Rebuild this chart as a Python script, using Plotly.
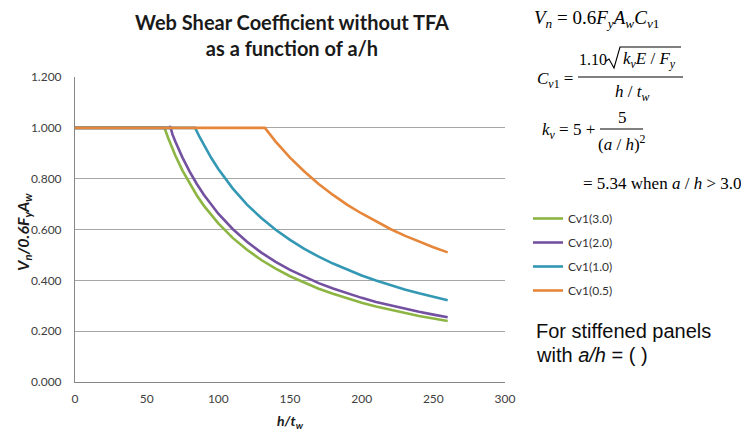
import plotly.graph_objects as go

# ---- data ----
series_names = ["Cv1(3.0)", "Cv1(2.0)", "Cv1(1.0)", "Cv1(0.5)"]
series_colors = ["#8DB543", "#7450A0", "#3398B4", "#E6863A"]

x_30 = [0, 62.4, 65, 67.5, 70, 75, 80, 85, 90, 100, 110, 120, 130, 140, 150, 160, 170, 180, 190, 200, 210, 220, 230, 240, 250, 260]
y_30 = [1.0, 1.0, 0.960, 0.924, 0.891, 0.832, 0.780, 0.734, 0.693, 0.624, 0.567, 0.520, 0.480, 0.446, 0.416, 0.390, 0.367, 0.347, 0.328, 0.312, 0.297, 0.284, 0.271, 0.260, 0.250, 0.240]

x_20 = [0, 65.5, 66.5, 68, 70, 75, 80, 85, 90, 100, 110, 120, 130, 140, 150, 160, 170, 180, 190, 200, 210, 220, 230, 240, 250, 260]
y_20 = [1.0, 1.0, 1.006, 0.974, 0.946, 0.883, 0.828, 0.779, 0.736, 0.662, 0.602, 0.552, 0.509, 0.473, 0.441, 0.414, 0.389, 0.368, 0.348, 0.331, 0.315, 0.301, 0.288, 0.276, 0.265, 0.255]

x_10 = [0, 83.8, 87, 90, 95, 100, 105, 110, 120, 130, 140, 150, 160, 170, 180, 190, 200, 210, 220, 230, 240, 250, 260]
y_10 = [1.0, 1.0, 0.963, 0.931, 0.882, 0.838, 0.798, 0.762, 0.698, 0.645, 0.599, 0.559, 0.524, 0.493, 0.466, 0.441, 0.419, 0.399, 0.381, 0.364, 0.349, 0.335, 0.322]

x_05 = [0, 132.5, 140, 150, 160, 170, 180, 190, 200, 210, 220, 230, 240, 250, 260]
y_05 = [1.0, 1.0, 0.946, 0.883, 0.828, 0.779, 0.736, 0.697, 0.663, 0.631, 0.602, 0.576, 0.552, 0.530, 0.510]

x_ticks = [0, 50, 100, 150, 200, 250, 300]
y_ticks = [0.0, 0.2, 0.4, 0.6, 0.8, 1.0, 1.2]

xs = [x_30, x_20, x_10, x_05]
ys = [y_30, y_20, y_10, y_05]

W, H = 741, 432
L, R, T, B = 75, 236, 77, 50
PW, PH = W - L - R, H - T - B


def px(x):
    return (x - L) / PW


def py(y):
    return (H - B - y) / PH


fig = go.Figure()
for name, col, xv, yv in zip(series_names, series_colors, xs, ys):
    fig.add_trace(go.Scatter(x=xv, y=yv, mode="lines", name=name, legendgroup=name,
                             line=dict(color=col, width=2.6)))

SANS = "Lato, Open Sans, sans-serif"
SERIF = "Liberation Serif, Times New Roman, serif"
ARIAL = "Liberation Sans, Arial, sans-serif"

fig.update_layout(
    width=W, height=H,
    margin=dict(l=L, r=R, t=T, b=B, autoexpand=False),
    paper_bgcolor="white", plot_bgcolor="white",
    font=dict(family=SANS, color="#404040"),
    title=dict(text="<b>Web Shear Coefficient without TFA<br>as a function of a/h</b>",
               xref="container", x=292 / W, xanchor="center", y=1 - 30 / H, yanchor="middle",
               font=dict(family=SANS, size=20, color="#1a1a1a")),
    showlegend=True,
    legend=dict(x=px(528), xanchor="left", y=py(204), yanchor="top",
                font=dict(family=SANS, size=12, color="#333333"),
                tracegroupgap=5, itemwidth=30, bgcolor="rgba(0,0,0,0)"),
    xaxis=dict(range=[0, 300], tickvals=x_ticks, showgrid=False, zeroline=False,
               showline=True, linecolor="#868686", linewidth=1, automargin=False,
               ticks="outside", ticklen=6, tickcolor="rgba(0,0,0,0)",
               tickfont=dict(family=SANS, size=12, color="#404040")),
    yaxis=dict(range=[0, 1.2], tickvals=y_ticks, tickformat=".3f",
               showgrid=True, gridcolor="#a6a6a6", gridwidth=1, zeroline=False,
               showline=True, linecolor="#868686", linewidth=1, automargin=False,
               ticks="outside", ticklen=10, tickcolor="rgba(0,0,0,0)",
               tickfont=dict(family=SANS, size=12, color="#404040")),
)

ann = []
shapes = []


def text(x, y, s, size, family=SERIF, xanchor="left", color="#000000", angle=0):
    ann.append(dict(x=px(x), y=py(y), xref="paper", yref="paper", text=s, showarrow=False,
                    xanchor=xanchor, yanchor="middle", textangle=angle,
                    font=dict(family=family, size=size, color=color)))


def hline(x0, x1, y):
    shapes.append(dict(type="line", xref="paper", yref="paper", x0=px(x0), x1=px(x1),
                       y0=py(y), y1=py(y), line=dict(color="#000000", width=1)))


def path(points):
    d = "M " + " L ".join(f"{px(a):.5f},{py(b):.5f}" for a, b in points)
    shapes.append(dict(type="path", xref="paper", yref="paper", path=d,
                       line=dict(color="#000000", width=1.1)))


# axis titles
text(23, 232, "<b><i>V<sub>n</sub>/0.6F<sub>y</sub>A<sub>w</sub></i></b>", 16, family=SANS,
     xanchor="center", color="#1a1a1a", angle=-90)
text(290, 421, "<b><i>h/t<sub>w</sub></i></b>", 14, family=SANS, xanchor="center", color="#1a1a1a")

# Equation 1
text(532, 19, "<i>V<sub>n</sub></i> = 0.6<i>F<sub>y</sub>A<sub>w</sub>C<sub>v</sub></i><sub>1</sub>", 19)
# Equation 2
text(535, 80, "<i>C<sub>v</sub></i><sub>1</sub> =", 17)
text(577, 59, "1.10", 16)
path([(606, 61), (609, 59), (614, 68), (620, 47), (681, 47)])
text(621, 60, "<i>k<sub>v</sub>E</i> / <i>F<sub>y</sub></i>", 17)
hline(578, 683, 77)
text(632, 93, "<i>h</i> / <i>t<sub>w</sub></i>", 17, xanchor="center")
# Equation 3
text(540, 131, "<i>k<sub>v</sub></i> = 5 +", 17)
text(622, 117, "5", 17, xanchor="center")
hline(600, 643, 129)
text(622, 143, "(<i>a</i> / <i>h</i>)<sup>2</sup>", 17, xanchor="center")
# Equation 4
text(581, 183, "= 5.34 when <i>a</i> / <i>h</i> &gt; 3.0", 17)
# Note
text(534, 331, "For stiffened panels", 20, family=ARIAL, color="#0d0d0d")
text(534, 355, "with <i>a/h</i> = ( )", 20, family=ARIAL, color="#0d0d0d")

fig.update_layout(annotations=ann, shapes=shapes)

fig.write_html("out.html", config={"displayModeBar": False},
               post_script="document.body.style.margin='0';document.body.style.overflow='hidden';")
